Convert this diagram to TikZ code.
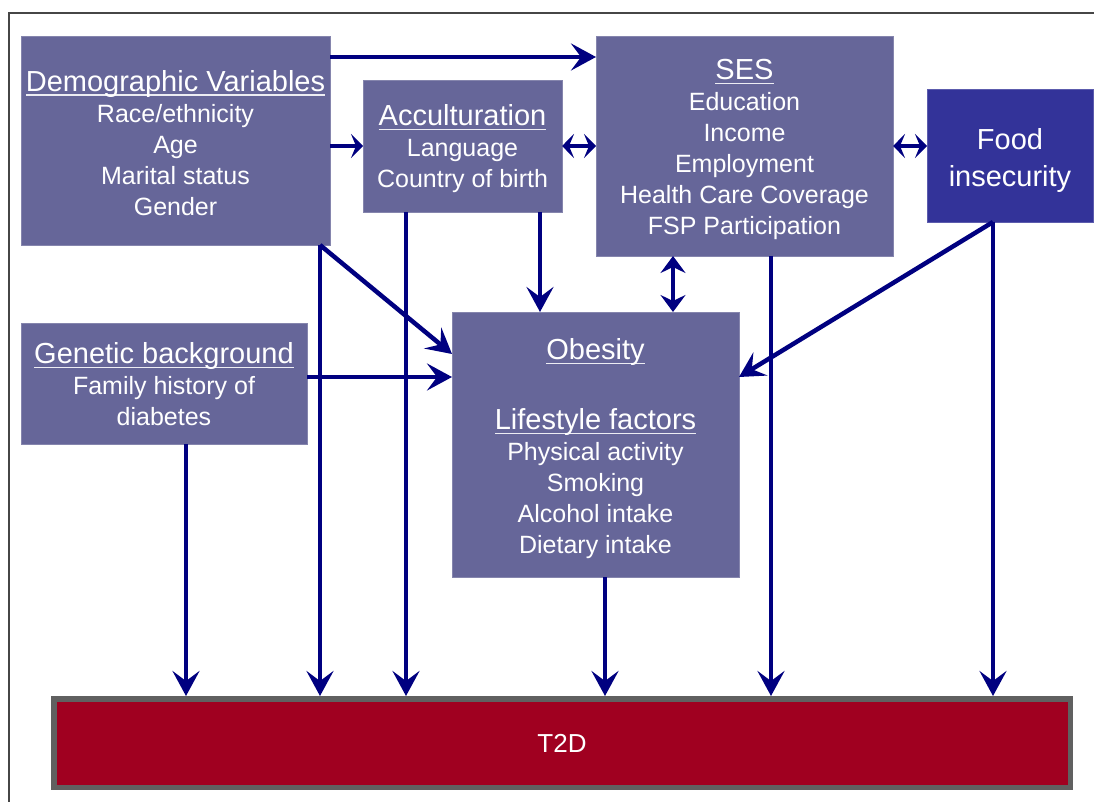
\documentclass[tikz,border=0pt]{standalone}
\usepackage{fontspec}
\setmainfont{Liberation Sans}
\usetikzlibrary{arrows.meta}
\definecolor{boxc}{RGB}{102,102,153}
\definecolor{foodc}{RGB}{51,51,153}
\definecolor{arrc}{RGB}{0,0,128}
\definecolor{t2dc}{RGB}{160,0,32}
\definecolor{t2db}{RGB}{96,96,96}
\definecolor{framec}{RGB}{70,70,70}
\newcommand{\ttl}[1]{{\fontsize{29}{31}\selectfont\setbox0=\hbox{#1}\rlap{\color{white!88!boxc}\rule[-4.5pt]{\wd0}{1.4pt}}\box0}}
\newcommand{\tp}[1]{\rule{0pt}{#1}}
\begin{document}
\begin{tikzpicture}[x=1pt,y=-1pt,
  box/.style={fill=boxc, draw=boxc!80!white, line width=0.8pt, inner sep=0pt, outer sep=0pt,
    text=white, align=center, font=\fontsize{25}{31}\selectfont},
  arr/.style={draw=arrc, line width=4.5pt},
  big/.style={arr, arrows={-Stealth[length=25pt,width=27pt,inset=10pt]}},
  sm/.style={arr, arrows={-Stealth[length=12pt,width=24pt,inset=5pt]}},
  smboth/.style={arr, arrows={Stealth[length=12pt,width=24pt,inset=5pt]-Stealth[length=12pt,width=24pt,inset=5pt]}},
  medboth/.style={arr, arrows={Stealth[length=17pt,width=25pt,inset=6pt]-Stealth[length=17pt,width=25pt,inset=6pt]}}
]
\useasboundingbox (0,0) rectangle (1094,802);
\fill[white] (0,0) rectangle (1094,802);
\draw[framec, line width=2pt] (9,802) -- (9,13) -- (1094,13);

\node[box, minimum width=309pt, minimum height=209pt] (demo) at (175.5,140.5)
  {\tp{26pt}\ttl{Demographic Variables}\\Race/ethnicity\\Age\\Marital status\\Gender};
\node[box, minimum width=199pt, minimum height=132pt] (acc) at (462.5,146)
  {\tp{27pt}\ttl{Acculturation}\\Language\\Country of birth};
\node[box, minimum width=297pt, minimum height=220pt] (ses) at (744.5,146)
  {\tp{27pt}\ttl{SES}\\Education\\Income\\Employment\\Health Care Coverage\\FSP Participation};
\node[box, fill=foodc, draw=foodc!80!white, minimum width=166pt, minimum height=133pt,
  font=\fontsize{29}{37}\selectfont] (food) at (1010,155.5) {\tp{31pt}Food\\insecurity};
\node[box, minimum width=286pt, minimum height=121pt] (gen) at (164,383.5)
  {\tp{23pt}\ttl{Genetic background}\\Family history of\\diabetes};
\node[box, minimum width=287pt, minimum height=265pt] (obes) at (595.5,444.5)
  {\tp{29pt}\ttl{Obesity}\\[39pt]\ttl{Lifestyle factors}\\Physical activity\\Smoking\\Alcohol intake\\Dietary intake};
\node[fill=t2dc, draw=t2db, line width=5.5pt, inner sep=0pt, minimum width=1016.5pt,
  minimum height=88.5pt, text=white, font=\fontsize{26}{31}\selectfont] (t2d) at (562,743) {T2D};

% connectors among boxes
\draw[big] (demo.east |- 0,57) -- (ses.west |- 0,57);
\draw[sm] (demo.east |- acc.west) -- (acc.west);
\draw[smboth] (acc.east) -- (ses.west |- acc.east);
\draw[smboth] (ses.east) -- (food.west |- ses.east);
\draw[big] (acc.south -| 540,0) -- (obes.north -| 540,0);
\draw[medboth] (ses.south -| 673,0) -- (obes.north -| 673,0);
\draw[big] (food.south -| 993,0) -- (obes.east |- 0,377);
\draw[big] (demo.south -| 320,0) -- (obes.west |- 0,354);
\draw[big] (gen.east |- 0,377) -- (obes.west |- 0,377);

% connectors to T2D
\draw[big] (gen.south -| 186,0) -- (t2d.north -| 186,0);
\draw[big] (demo.south -| 320,0) -- (t2d.north -| 320,0);
\draw[big] (acc.south -| 406,0) -- (t2d.north -| 406,0);
\draw[big] (obes.south -| 605,0) -- (t2d.north -| 605,0);
\draw[big] (ses.south -| 771,0) -- (t2d.north -| 771,0);
\draw[big] (food.south -| 993,0) -- (t2d.north -| 993,0);
\end{tikzpicture}
\end{document}
